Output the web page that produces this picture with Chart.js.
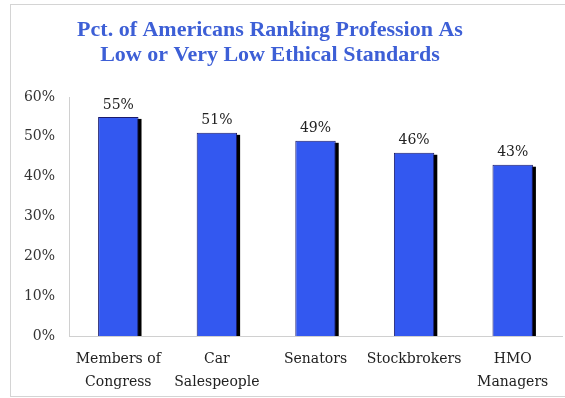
<!DOCTYPE html>
<html>
<head>
<meta charset="utf-8">
<script src="https://cdn.jsdelivr.net/npm/chart.js@4"></script>
<style>
  html, body { margin: 0; padding: 0; background: #fff; overflow: hidden; }
  #wrap { position: relative; width: 565px; height: 398px; }
  #frame { position: absolute; left: 10px; top: 4px; width: 600px; height: 391px; border: 1px solid #d4d4d4; }
  canvas { position: absolute; left: 0; top: 0; }
</style>
</head>
<body>
<div id="wrap">
  <div id="frame"></div>
  <canvas id="chart" width="565" height="398"></canvas>
</div>
<script>
const professions = [['Members of', 'Congress'], ['Car', 'Salespeople'], 'Senators', 'Stockbrokers', ['HMO', 'Managers']];
const pctLowEthics = [55, 51, 49, 46, 43];
const titleLines = ['Pct. of Americans Ranking Profession As', 'Low or Very Low Ethical Standards'];

const serif = "'DejaVu Serif', Georgia, serif";

// title is a bit left of the canvas centre in the original, so draw it by hand
const chartTitle = {
    id: 'chartTitle',
    afterDraw(chart) {
        const ctx = chart.ctx;
        ctx.save();
        ctx.font = "bold 22px 'Liberation Serif', serif";
        ctx.fillStyle = '#3d5fd6';
        ctx.textAlign = 'center';
        ctx.textBaseline = 'middle';
        ctx.fillText(titleLines[0], 270, 30);
        ctx.fillText(titleLines[1], 270, 55);
        ctx.restore();
    }
};

// black drop shadow on the right of each bar, drawn from the bar elements
const barShadow = {
    id: 'barShadow',
    beforeDatasetsDraw(chart) {
        const ctx = chart.ctx;
        const meta = chart.getDatasetMeta(0);
        ctx.save();
        ctx.fillStyle = '#000';
        meta.data.forEach(bar => {
            const w = bar.width;
            ctx.fillRect(bar.x - w / 2 + 3, bar.y + 2, w, bar.base - bar.y - 2);
        });
        ctx.restore();
    }
};

// value labels above bars
const valueLabels = {
    id: 'valueLabels',
    afterDatasetsDraw(chart) {
        const ctx = chart.ctx;
        const meta = chart.getDatasetMeta(0);
        ctx.save();
        ctx.font = '14px ' + serif;
        ctx.fillStyle = '#222';
        ctx.textAlign = 'center';
        ctx.textBaseline = 'bottom';
        meta.data.forEach((bar, i) => {
            ctx.fillText(pctLowEthics[i] + '%', bar.x, bar.y - 5);
        });
        ctx.restore();
    }
};

new Chart(document.getElementById('chart'), {
    type: 'bar',
    data: {
        labels: professions,
        datasets: [{
            data: pctLowEthics,
            backgroundColor: '#3358f0',
            borderColor: '#1a1a6a',
            borderWidth: 1,
            barPercentage: 0.41,
            categoryPercentage: 1
        }]
    },
    options: {
        responsive: false,
        animation: false,
        devicePixelRatio: 1,
        layout: { padding: { left: 0, right: 3, top: 97, bottom: 0 } },
        plugins: {
            legend: { display: false },
            tooltip: { enabled: false },
            title: { display: false }
        },
        scales: {
            y: {
                min: 0,
                max: 60,
                ticks: {
                    stepSize: 10,
                    callback: v => v + '%',
                    color: '#333',
                    font: { family: serif, size: 14 },
                    padding: 6
                },
                grid: { display: false },
                border: { color: '#d0d0d0' },
                afterFit(scale) { scale.width = 69; }
            },
            x: {
                ticks: {
                    color: '#222',
                    font: { family: serif, size: 14, lineHeight: 1.65 },
                    padding: 4,
                    maxRotation: 0,
                    autoSkip: false
                },
                grid: { display: false },
                border: { color: '#d0d0d0' },
                afterFit(scale) { scale.height = 62; }
            }
        }
    },
    plugins: [barShadow, valueLabels, chartTitle]
});
</script>
</body>
</html>
